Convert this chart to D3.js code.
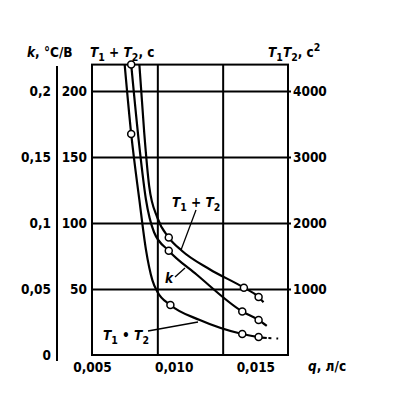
<html>
<head>
  <script src="https://d3js.org/d3.v7.min.js"></script>
  <style>
    body { margin: 0; background: #fff; }
    text { font-family: "Liberation Sans Narrow", "DejaVu Sans Condensed", sans-serif; font-weight: bold; fill: #000; }
    .axis .domain { display: none; }
    .axis line { stroke: #000; stroke-width: 2; }
  </style>
</head>
<body>
<svg id="chart" width="394" height="393"></svg>
<script>
// flow q, l/s
const qTicks = [0.005, 0.010, 0.015];
const qTickLabels = ["0,005", "0,010", "0,015"];
const qGrid = [0.009, 0.013];
// T1 + T2 axis, s
const secTicks = [50, 100, 150, 200];
// k axis, °C/V
const kTicks = [0, 0.05, 0.1, 0.15, 0.2];
const kTickLabels = ["0", "0,05", "0,1", "0,15", "0,2"];
// T1*T2 axis, s^2
const sqTicks = [1000, 2000, 3000, 4000];

// T1 + T2, s
const sumQ = [0.0079, 0.0082, 0.0085, 0.0090, 0.0097, 0.0105, 0.0122, 0.0143, 0.0152, 0.0155];
const sumV = [220, 168, 128, 104, 89, 79, 65, 51, 44, 40];
const sumMarkQ = [0.0097, 0.0143, 0.0152];
const sumMarkV = [89, 51, 44];

// k, °C/V
const kQ = [0.0074, 0.0079, 0.0083, 0.0088, 0.0097, 0.0114, 0.0142, 0.0152, 0.0157];
const kV = [0.22, 0.158, 0.118, 0.093, 0.079, 0.061, 0.033, 0.0265, 0.022];
const kMarkQ = [0.0074, 0.0097, 0.0142, 0.0152];
const kMarkV = [0.22, 0.079, 0.033, 0.0265];

// T1 * T2, s^2
const prodQ = [0.0070, 0.0074, 0.0079, 0.0083, 0.0087, 0.0090, 0.0098, 0.0116, 0.0142, 0.0152, 0.0157];
const prodV = [4400, 3350, 2350, 1600, 1130, 960, 758, 530, 318, 272, 258];
const prodMarkQ = [0.0074, 0.0098, 0.0142, 0.0152];
const prodMarkV = [3350, 758, 318, 272];
const prodTailQ = [0.0158, 0.0164];
const prodTailV = [256, 250];

const svg = d3.select("svg#chart");
const plotL = 92, plotR = 288, plotT = 64.6, plotB = 355;
const fs = 13.5;

const x = d3.scaleLinear().domain([0.005, 0.017]).range([plotL, plotR]);
const ySec = d3.scaleLinear().domain([0, 220]).range([plotB, plotT]);
const yK = d3.scaleLinear().domain([0, 0.22]).range([plotB, plotT]);
const ySq = d3.scaleLinear().domain([0, 4400]).range([plotB, plotT]);

svg.append("rect").attr("width", 394).attr("height", 393).attr("fill", "#fff");

// horizontal grid + T1+T2 labels
svg.append("g").attr("class", "axis")
  .attr("transform", `translate(${plotL},0)`)
  .call(d3.axisLeft(ySec).tickValues(secTicks).tickSize(-(plotR - plotL)).tickPadding(5))
  .call(g => g.selectAll("text").style("font-size", fs + "px"));

// vertical grid
svg.append("g").attr("class", "axis")
  .attr("transform", `translate(0,${plotB})`)
  .call(d3.axisBottom(x).tickValues(qGrid).tickSize(-(plotB - plotT)).tickFormat(""));

// q labels
svg.append("g").attr("class", "axis")
  .attr("transform", `translate(0,${plotB})`)
  .call(d3.axisBottom(x).tickValues(qTicks).tickSize(0).tickPadding(7)
    .tickFormat((d, i) => qTickLabels[i]))
  .call(g => g.selectAll("text").style("font-size", fs + "px"));

// T1*T2 axis on the right
svg.append("g").attr("class", "axis")
  .attr("transform", `translate(${plotR},0)`)
  .call(d3.axisRight(ySq).tickValues(sqTicks).tickSize(3).tickPadding(2).tickFormat(d3.format("d")))
  .call(g => g.selectAll("text").style("font-size", fs + "px"));

// k axis on the far left
svg.append("line")
  .attr("x1", 57).attr("x2", 57).attr("y1", 66).attr("y2", 361)
  .attr("stroke", "#000").attr("stroke-width", 2);
svg.append("g").attr("class", "axis")
  .attr("transform", "translate(57,0)")
  .call(d3.axisLeft(yK).tickValues(kTicks).tickSize(0).tickPadding(6)
    .tickFormat((d, i) => kTickLabels[i]))
  .call(g => g.selectAll("text").style("font-size", fs + "px"));

// frame
svg.append("rect")
  .attr("x", plotL).attr("y", plotT)
  .attr("width", plotR - plotL).attr("height", plotB - plotT)
  .attr("fill", "none").attr("stroke", "#000").attr("stroke-width", 2);

svg.append("clipPath").attr("id", "plotClip")
  .append("rect").attr("x", plotL).attr("y", plotT - 1)
  .attr("width", plotR - plotL).attr("height", plotB - plotT + 1);

const curves = svg.append("g").attr("clip-path", "url(#plotClip)");

function drawSeries(qs, vs, yScale) {
  const line = d3.line().x(d => x(d[0])).y(d => yScale(d[1])).curve(d3.curveMonotoneX);
  curves.append("path")
    .attr("d", line(d3.zip(qs, vs)))
    .attr("fill", "none").attr("stroke", "#000").attr("stroke-width", 2.2);
}
function drawMarks(qs, vs, yScale) {
  svg.append("g").selectAll("circle")
    .data(d3.zip(qs, vs))
    .join("circle")
    .attr("cx", d => x(d[0])).attr("cy", d => yScale(d[1]))
    .attr("r", 3.5)
    .attr("fill", "#fff").attr("stroke", "#000").attr("stroke-width", 1.5);
}

drawSeries(sumQ, sumV, ySec);
drawSeries(kQ, kV, yK);
drawSeries(prodQ, prodV, ySq);
curves.append("path")
  .attr("d", d3.line().x(d => x(d[0])).y(d => ySq(d[1]))(d3.zip(prodTailQ, prodTailV)))
  .attr("fill", "none").attr("stroke", "#000").attr("stroke-width", 2)
  .attr("stroke-dasharray", "3,5");
drawMarks(sumMarkQ, sumMarkV, ySec);
drawMarks(kMarkQ, kMarkV, yK);
drawMarks(prodMarkQ, prodMarkV, ySq);

// text with italics, subscripts and superscripts
function richText(px, py, parts, size) {
  const t = svg.append("text").attr("x", px).attr("y", py).style("font-size", size + "px");
  let shift = 0;
  parts.forEach(p => {
    const s = t.append("tspan").text(p.t);
    const want = p.sub ? 4 : p.sup ? -6 : 0;
    s.attr("dy", want - shift);
    shift = want;
    if (p.i) s.style("font-style", "italic");
    if (p.sub || p.sup) s.style("font-size", (size - 3) + "px");
  });
  return t;
}

richText(27, 57, [{ t: "k", i: true }, { t: ", °C/В" }], fs);
richText(90, 57, [{ t: "T", i: true }, { t: "1", sub: true }, { t: " + " }, { t: "T", i: true }, { t: "2", sub: true }, { t: ", с" }], fs);
richText(268, 57, [{ t: "T", i: true }, { t: "1", sub: true }, { t: "T", i: true }, { t: "2", sub: true }, { t: ", с" }, { t: "2", sup: true }], fs);
richText(308, 371, [{ t: "q", i: true }, { t: ", л/с" }], fs);

// curve labels with leaders
richText(172, 207, [{ t: "T", i: true }, { t: "1", sub: true }, { t: " + " }, { t: "T", i: true }, { t: "2", sub: true }], fs);
richText(165, 283, [{ t: "k", i: true }], fs);
richText(103, 340, [{ t: "T", i: true }, { t: "1", sub: true }, { t: " • " }, { t: "T", i: true }, { t: "2", sub: true }], fs);

const leaders = [[196, 210, 181, 250], [175, 277, 185, 268], [148, 331, 198, 322]];
svg.append("g").selectAll("line")
  .data(leaders)
  .join("line")
  .attr("x1", d => d[0]).attr("y1", d => d[1])
  .attr("x2", d => d[2]).attr("y2", d => d[3])
  .attr("stroke", "#000").attr("stroke-width", 1.3);
</script>
</body>
</html>
